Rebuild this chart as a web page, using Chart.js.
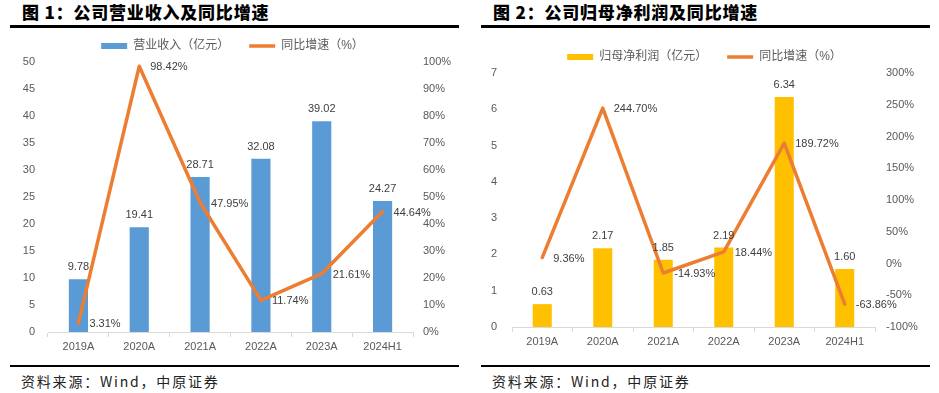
<!DOCTYPE html>
<html><head><meta charset="utf-8">
<script src="https://cdn.jsdelivr.net/npm/chart.js@4"></script>
<style>
html,body{margin:0;padding:0;background:#fff;width:939px;height:393px;overflow:hidden;position:relative}
.title{position:absolute;top:2px;font-family:"Noto Sans CJK SC";font-weight:900;font-size:17px;letter-spacing:0.8px;color:#000;line-height:20px;white-space:nowrap}
.rule{position:absolute;background:#000}
.src{position:absolute;top:372px;font-family:"Noto Sans CJK SC";font-size:14px;letter-spacing:1.8px;color:#222;line-height:18px;white-space:nowrap}
canvas{position:absolute}
</style></head>
<body>
<div class="title" style="left:22px">图 1：公司营业收入及同比增速</div>
<div class="rule" style="left:10px;top:25px;width:449px;height:3px"></div>
<div class="title" style="left:493px">图 2：公司归母净利润及同比增速</div>
<div class="rule" style="left:481px;top:25px;width:449px;height:3px"></div>
<canvas id="c1" width="465" height="339" style="left:0;top:18px"></canvas>
<canvas id="c2" width="469" height="334" style="left:470px;top:18px"></canvas>
<div class="rule" style="left:10px;top:365px;width:449px;height:2px"></div>
<div class="rule" style="left:481px;top:365px;width:449px;height:2px"></div>
<div class="src" style="left:21px">资料来源：Wind，中原证券</div>
<div class="src" style="left:492px">资料来源：Wind，中原证券</div>
<script>
const categories = ['2019A', '2020A', '2021A', '2022A', '2023A', '2024H1'];
const revenue = [9.78, 19.41, 28.71, 32.08, 39.02, 24.27];
const revenueGrowth = [3.31, 98.42, 47.95, 11.74, 21.61, 44.64];
const netProfit = [0.63, 2.17, 1.85, 2.19, 6.34, 1.60];
const netProfitGrowth = [9.36, 244.70, -14.93, 18.44, 189.72, -63.86];
const revenueAxis = {min: 0, max: 50, step: 5};
const revenueGrowthAxis = {min: 0, max: 100, step: 10};
const profitAxis = {min: 0, max: 7, step: 1};
const profitGrowthAxis = {min: -100, max: 300, step: 50};

const FONT = '"Liberation Sans", "Noto Sans CJK SC", sans-serif';
const TICK = '#595959';

const valueLabels = {
  id: 'valueLabels',
  afterDatasetsDraw(chart) {
    const ctx = chart.ctx;
    ctx.save();
    ctx.font = '11px ' + FONT;
    ctx.fillStyle = '#404040';
    chart.data.datasets.forEach((ds, i) => {
      const meta = chart.getDatasetMeta(i);
      meta.data.forEach((el, j) => {
        const v = ds.data[j];
        ctx.textBaseline = 'middle';
        if (meta.type === 'bar') {
          ctx.textAlign = 'center';
          ctx.fillText(v.toFixed(2), el.x, el.y - 12);
        } else {
          ctx.textAlign = 'left';
          ctx.fillText(v.toFixed(2) + '%', el.x + 11, el.y + 1);
        }
      });
    });
    ctx.restore();
  }
};

function makeChart(id, barLabel, barData, barColor, lineLabel, lineData, leftAx, rightAx, geo) {
  const ctx = document.getElementById(id);
  return new Chart(ctx, {
    type: 'bar',
    data: {
      labels: categories,
      datasets: [
        {type: 'bar', label: barLabel, data: barData, backgroundColor: barColor,
         yAxisID: 'y', order: 1, categoryPercentage: 1, barPercentage: 0.315,
         pointStyle: 'rect'},
        {type: 'line', label: lineLabel, data: lineData, borderColor: '#ED7D31',
         backgroundColor: '#ED7D31', borderWidth: 3.5, pointRadius: 0, tension: 0,
         borderCapStyle: 'round', borderJoinStyle: 'round',
         yAxisID: 'y1', order: 0, pointStyle: 'line'}
      ]
    },
    options: {
      responsive: false,
      animation: false,
      devicePixelRatio: 1,
      layout: {padding: {top: 0, left: 0, right: 0, bottom: 0}},
      plugins: {
        tooltip: {enabled: false},
        legend: {
          display: true,
          position: 'top',
          labels: {
            usePointStyle: true, pointStyleWidth: 26, boxHeight: 6,
            padding: 20, color: TICK,
            font: {size: 12, family: FONT},
            sort: (a, b) => a.datasetIndex - b.datasetIndex
          }
        }
      },
      scales: {
        x: {
          offset: true,
          grid: {display: true, offset: true, drawOnChartArea: false, drawTicks: true,
                 tickLength: 5, color: '#d9d9d9'},
          border: {display: true, color: '#d9d9d9'},
          ticks: {color: TICK, font: {size: 11, family: FONT}, padding: 3, maxRotation: 0},
          afterFit(s) { s.height = geo.xh; }
        },
        y: {
          position: 'left',
          min: leftAx.min, max: leftAx.max,
          grid: {display: false, drawTicks: false},
          border: {display: false},
          ticks: {stepSize: leftAx.step, color: TICK, font: {size: 11, family: FONT}, padding: geo.lp},
          afterFit(s) { s.width = geo.lw; s.paddingTop = geo.top; }
        },
        y1: {
          position: 'right',
          min: rightAx.min, max: rightAx.max,
          grid: {display: false, drawTicks: false},
          border: {display: false},
          ticks: {stepSize: rightAx.step, color: TICK, font: {size: 11, family: FONT}, padding: geo.rp,
                  callback: v => v + '%'},
          afterFit(s) { s.width = geo.rw; s.paddingTop = geo.top; }
        }
      }
    },
    plugins: [valueLabels]
  });
}

makeChart('c1', '营业收入（亿元）', revenue, '#5B9BD5', '同比增速（%）', revenueGrowth,
  revenueAxis, revenueGrowthAxis, {xh: 25, lw: 48, rw: 52, lp: 13, rp: 10, top: 44});
makeChart('c2', '归母净利润（亿元）', netProfit, '#FFC000', '同比增速（%）', netProfitGrowth,
  profitAxis, profitGrowthAxis, {xh: 25, lw: 42, rw: 64, lp: 15, rp: 11, top: 55});
</script>
</body></html>
